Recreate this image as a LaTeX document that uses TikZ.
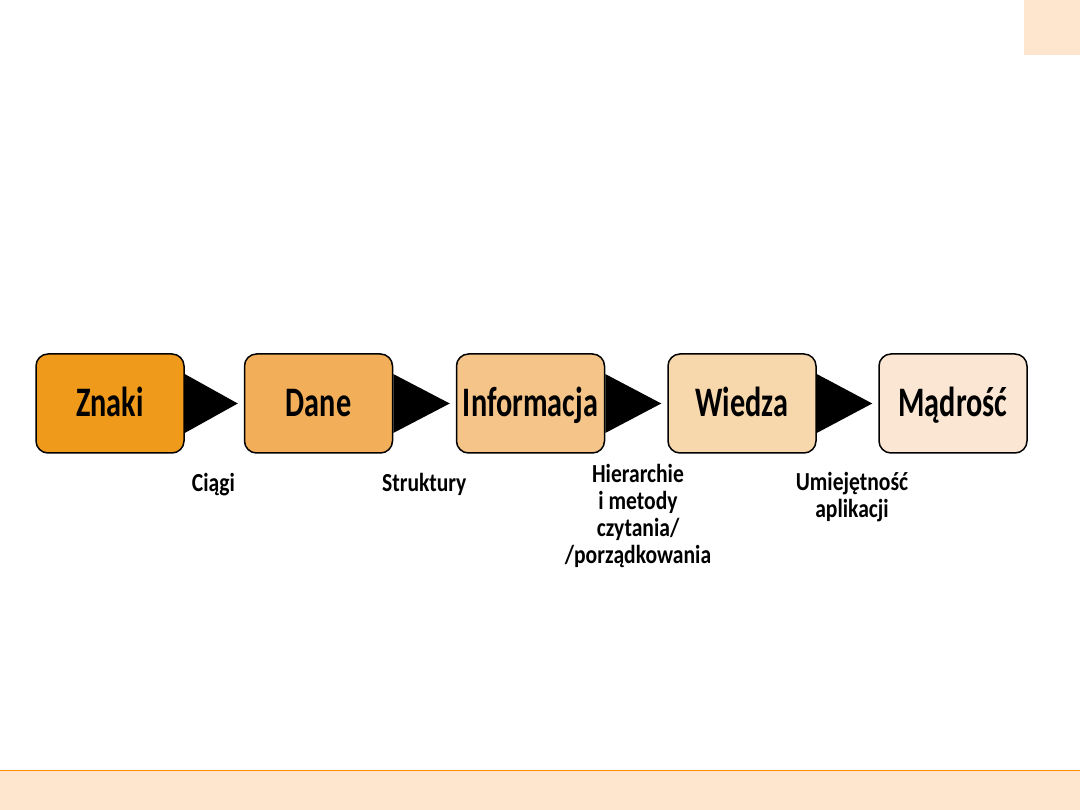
\documentclass[tikz,border=0pt]{standalone}
\usepackage{fontspec}
\setmainfont{Carlito}
\newfontfamily\boxfont{Carlito}[FakeStretch=0.72]
\newfontfamily\notefont{Carlito}[FakeStretch=0.83]
\usetikzlibrary{calc}

\definecolor{lvlA}{RGB}{239,154,26}
\definecolor{lvlB}{RGB}{243,174,90}
\definecolor{lvlC}{RGB}{244,196,136}
\definecolor{lvlD}{RGB}{247,215,172}
\definecolor{lvlE}{RGB}{250,230,210}
\definecolor{band}{RGB}{254,230,206}
\definecolor{bandline}{RGB}{255,140,0}

\begin{document}
\begin{tikzpicture}[x=1pt, y=-1pt,
    level/.style={draw, line width=1.5pt, rounded corners=12pt, minimum width=148pt, minimum height=99pt,
      inner sep=0pt, text height=27pt, text depth=0pt, font=\boxfont\bfseries\fontsize{42}{44}\selectfont},
    note/.style={inner sep=0pt, align=center, font=\notefont\bfseries\fontsize{26}{27}\selectfont}]
  \useasboundingbox (0,0) rectangle (1080,810);
  % ---------------- slide frame ----------------
  \fill[band] (1024,0) rectangle (1080,55);
  \fill[band] (0,771) rectangle (1080,810);
  \draw[bandline, line width=1.2pt] (0,770.5) -- (1080,770.5);
  % ---------------- levels ----------------
  \node[level, fill=lvlA] (Z) at (110,403.5) {Znaki};
  \node[level, fill=lvlB] (D) at (318.5,403.5) {Dane};
  \node[level, fill=lvlC] (I) at (530.5,403.5) {Informacja};
  \node[level, fill=lvlD] (W) at (742,403.5) {Wiedza};
  \node[level, fill=lvlE] (M) at (953,403.5) {Mądrość};
  \foreach \a/\b in {Z/D, D/I, I/W, W/M}
    \fill ($(\a.east)+(0,-29.5)$) -- ($(\b.west)+(-6,0)$) -- ($(\a.east)+(0,29.5)$) -- cycle;
  % ---------------- notes under the arrows ----------------
  \node[note, anchor=base east] (N1) at (235,491) {Ciągi};
  \node[note, anchor=base west] (N2) at (382,491) {Struktury};
  \node[note, anchor=north] (N3) at (638,464) {Hierarchie\\ i metody\\ czytania/\\ /porządkowania};
  \node[note, anchor=north] (N4) at (852,472) {Umiejętność\\ aplikacji};
\end{tikzpicture}
\end{document}
